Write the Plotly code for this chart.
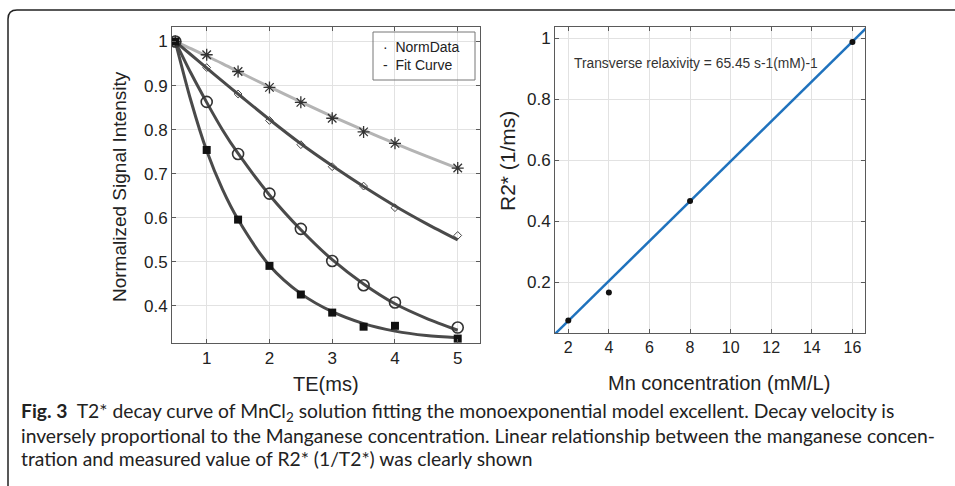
import plotly.graph_objects as go

W, H = 955, 486

# ---------------- data (left panel) ----------------
te = [0.5, 1, 1.5, 2, 2.5, 3, 3.5, 4, 5]
sig_star = [1.0, 0.970, 0.932, 0.896, 0.862, 0.826, 0.795, 0.769, 0.713]
sig_diamond = [1.0, 0.941, 0.881, 0.821, 0.766, 0.716, 0.672, 0.623, 0.560]
sig_circle = [1.0, 0.863, 0.745, 0.655, 0.575, 0.502, 0.447, 0.408, 0.351]
sig_square = [1.0, 0.754, 0.596, 0.491, 0.426, 0.385, 0.353, 0.355, 0.326]

te_fit = [0.5, 0.75, 1, 1.25, 1.5, 2, 2.5, 3, 3.5, 4, 4.5, 5]
fit_star = [1.0, 0.984, 0.967, 0.950, 0.932, 0.897, 0.863, 0.830, 0.799, 0.769, 0.740, 0.712]
fit_diamond = [1.0, 0.970, 0.940, 0.910, 0.881, 0.823, 0.768, 0.718, 0.671, 0.627, 0.587, 0.550]
fit_circle = [1.0, 0.928, 0.862, 0.800, 0.746, 0.652, 0.573, 0.505, 0.450, 0.405, 0.372, 0.345]
fit_square = [1.0, 0.865, 0.752, 0.665, 0.596, 0.492, 0.428, 0.387, 0.360, 0.343, 0.333, 0.328]

left_xticks = [1, 2, 3, 4, 5]
left_yticks = [0.4, 0.5, 0.6, 0.7, 0.8, 0.9, 1.0]
left_yticktext = ["0.4", "0.5", "0.6", "0.7", "0.8", "0.9", "1"]

# ---------------- data (right panel) ----------------
mn_conc = [2, 4, 8, 16]
r2star = [0.074, 0.166, 0.466, 0.988]
line_x = [1.3, 16.7]
line_y = [0.027, 1.035]

right_xticks = [2, 4, 6, 8, 10, 12, 14, 16]
right_yticks = [0.2, 0.4, 0.6, 0.8, 1.0]
right_yticktext = ["0.2", "0.4", "0.6", "0.8", "1"]

caption_lines = [
    "<b>Fig. 3</b>  T2* decay curve of MnCl<sub>2</sub> solution fitting the monoexponential model excellent. Decay velocity is",
    "inversely proportional to the Manganese concentration. Linear relationship between the manganese concen-",
    "tration and measured value of R2* (1/T2*) was clearly shown",
]


def px(x):
    return x / W


def py(y):
    return 1 - y / H


fig = go.Figure()

DARK = "#4a4a4a"
LIGHT = "#b4b4b4"
SANS = "Liberation Sans, Arial, sans-serif"

# fit curves
for yv, col in [(fit_star, LIGHT), (fit_diamond, DARK), (fit_circle, DARK), (fit_square, DARK)]:
    fig.add_trace(go.Scatter(x=te_fit, y=yv, mode="lines", line=dict(color=col, width=3, shape="spline", smoothing=0.8),
                             xaxis="x", yaxis="y", showlegend=False, hoverinfo="skip"))

# data markers
fig.add_trace(go.Scatter(x=te, y=sig_star, mode="markers", xaxis="x", yaxis="y", showlegend=False,
                         marker=dict(symbol="asterisk-open", size=10, color="#333", line=dict(color="#333", width=1.3))))
fig.add_trace(go.Scatter(x=te, y=sig_diamond, mode="markers", xaxis="x", yaxis="y", showlegend=False,
                         marker=dict(symbol="diamond-open", size=6, color="#444", line=dict(color="#444", width=1))))
fig.add_trace(go.Scatter(x=te, y=sig_circle, mode="markers", xaxis="x", yaxis="y", showlegend=False,
                         marker=dict(symbol="circle-open", size=11, color="#333", line=dict(color="#333", width=1.6))))
fig.add_trace(go.Scatter(x=te, y=sig_square, mode="markers", xaxis="x", yaxis="y", showlegend=False,
                         marker=dict(symbol="square", size=8, color="#111")))

# right panel
fig.add_trace(go.Scatter(x=line_x, y=line_y, mode="lines", xaxis="x2", yaxis="y2", showlegend=False,
                         line=dict(color="#1f72bd", width=2.5)))
fig.add_trace(go.Scatter(x=mn_conc, y=r2star, mode="markers", xaxis="x2", yaxis="y2", showlegend=False,
                         marker=dict(symbol="circle", size=6, color="#111")))

axis_common = dict(
    showgrid=True, gridcolor="#e2e2e2", gridwidth=1,
    showline=True, linecolor="#5a5a5a", linewidth=1, mirror="ticks",
    ticks="inside", ticklen=4, tickcolor="#5a5a5a", zeroline=False,
)

fig.update_layout(
    width=W, height=H,
    margin=dict(l=0, r=0, t=0, b=0),
    paper_bgcolor="white", plot_bgcolor="white",
    xaxis=dict(domain=[px(172), px(480)], range=[0.447, 5.355], anchor="y",
               tickvals=left_xticks, tickfont=dict(family=SANS, size=17, color="#222"),
               **axis_common),
    yaxis=dict(domain=[py(343), py(27)], range=[0.316, 1.033], anchor="x",
               tickvals=left_yticks, ticktext=left_yticktext,
               tickfont=dict(family=SANS, size=17, color="#222"),
               **axis_common),
    xaxis2=dict(domain=[px(555), px(865)], range=[1.345, 16.62], anchor="y2",
                tickvals=right_xticks,
                tickfont=dict(family=SANS, size=16, color="#222"),
                **axis_common),
    yaxis2=dict(domain=[py(333), py(27)], range=[0.033, 1.037], anchor="x2",
                tickvals=right_yticks, ticktext=right_yticktext,
                tickfont=dict(family=SANS, size=17, color="#222"),
                **axis_common),
)

annotations = []


def ann(x, y, text, size, family=SANS, angle=0, xanchor="center", color="#222"):
    annotations.append(dict(x=px(x), y=py(y), xref="paper", yref="paper", text=text, textangle=angle,
                            xanchor=xanchor, yanchor="middle", showarrow=False,
                            font=dict(family=family, size=size, color=color)))


# axis titles
ann(119, 187, "Normalized Signal Intensity", 19, angle=-90)
ann(326, 384, "TE(ms)", 20)
ann(507, 161, "R2* (1/ms)", 21, angle=-90)
ann(719, 383, "Mn concentration (mM/L)", 20)
# relaxivity text
ann(572, 63, "Transverse relaxivity = 65.45 s-1(mM)-1", 13.8, xanchor="left", color="#333")
# legend
ann(381, 47, "·  NormData", 14, xanchor="left")
ann(381, 65, "-  Fit Curve", 14, xanchor="left")
# caption
for i, line in enumerate(caption_lines):
    ann(19, 412 + 23 * i, line, 19.3, family="Lato, Open Sans, sans-serif", xanchor="left")
fig.update_layout(annotations=annotations)

shapes = []
shapes.append(dict(type="rect", xref="paper", yref="paper", x0=px(373), x1=px(475), y0=py(80), y1=py(32),
                   line=dict(color="#777", width=1), fillcolor="rgba(0,0,0,0)", layer="above"))
frame_path = "M {:.5f},{:.5f} L {:.5f},{:.5f} Q {:.5f},{:.5f} {:.5f},{:.5f} L {:.5f},{:.5f}".format(
    px(8), py(490), px(8), py(19), px(8), py(10), px(17), py(10), px(960), py(10))
shapes.append(dict(type="path", xref="paper", yref="paper", path=frame_path, line=dict(color="#222", width=1.5)))
fig.update_layout(shapes=shapes)

fig.write_html("out.html", config={"displayModeBar": False},
               post_script="document.body.style.margin='0';document.body.style.overflow='hidden';")
